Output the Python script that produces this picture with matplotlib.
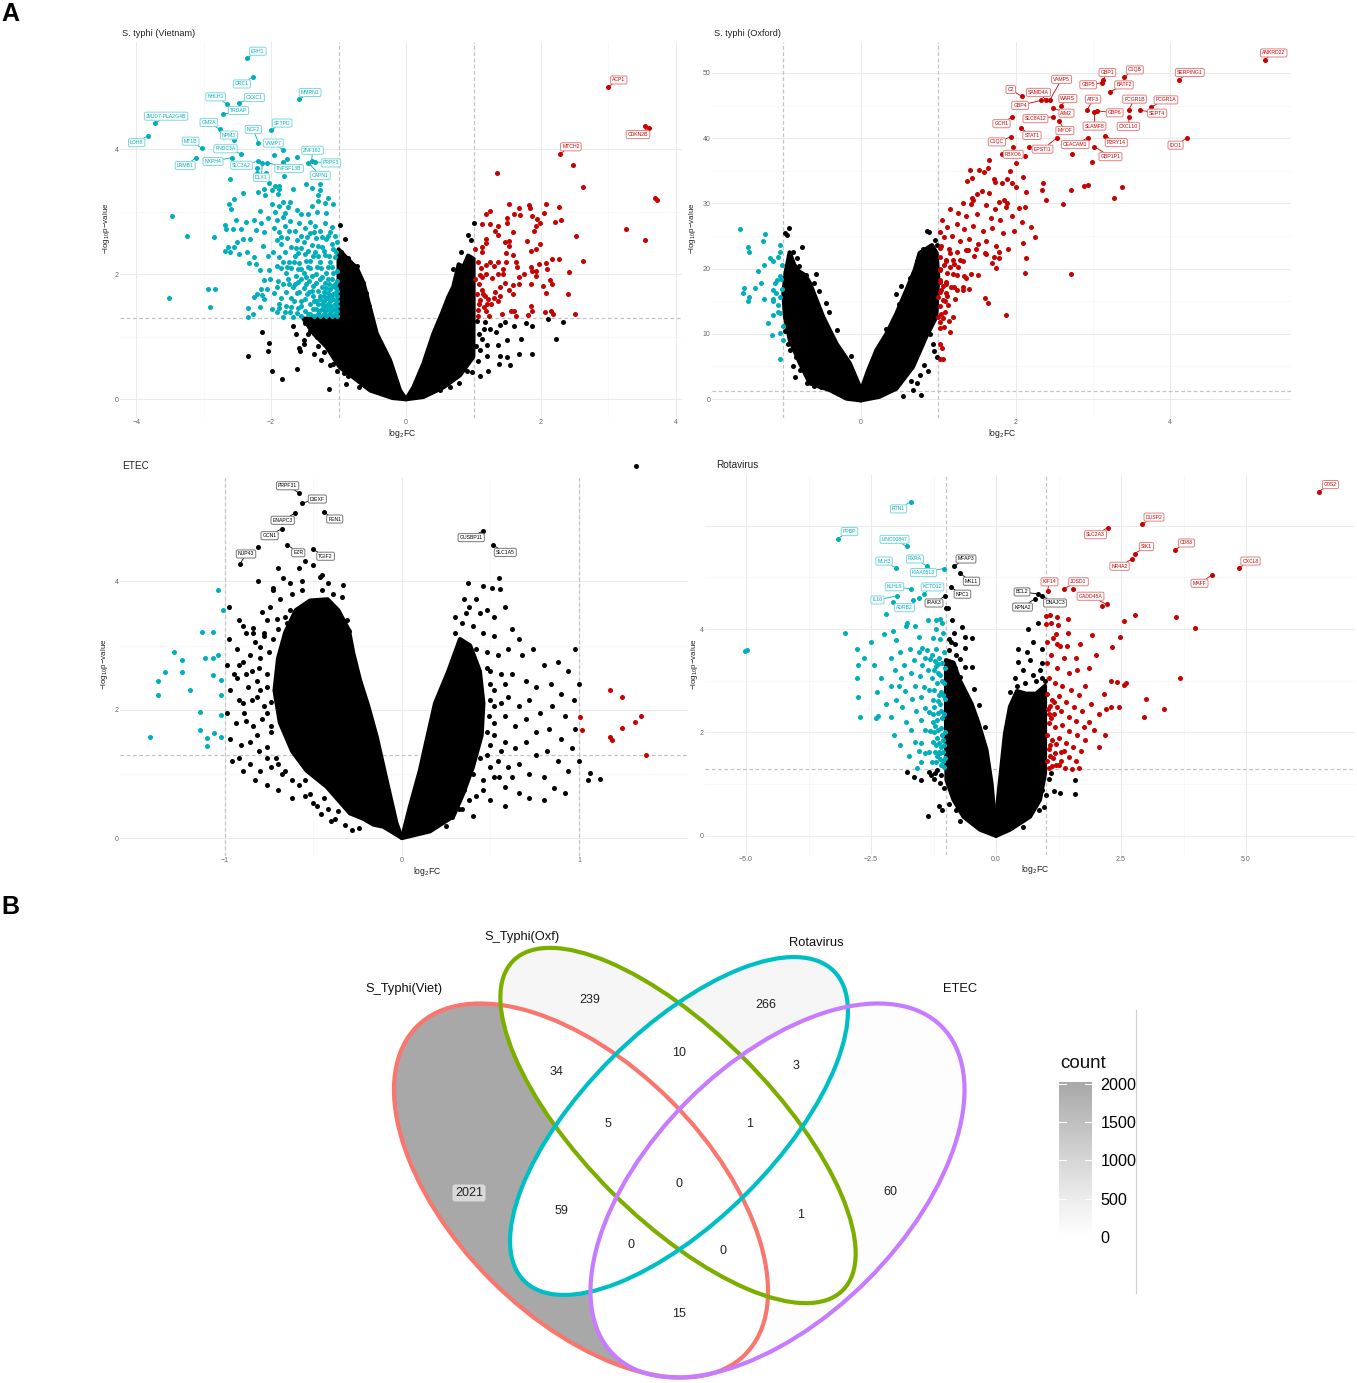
import numpy as np
import matplotlib
matplotlib.use("Agg")
import matplotlib.pyplot as plt
from matplotlib.patches import Ellipse, Polygon
from matplotlib.colors import LinearSegmentedColormap, Normalize
from matplotlib.cm import ScalarMappable

plt.rcParams['font.family'] = ['Liberation Sans', 'DejaVu Sans']
plt.rcParams['mathtext.fontset'] = 'custom'
plt.rcParams['mathtext.rm'] = 'Liberation Sans'
plt.rcParams['mathtext.it'] = 'Liberation Sans:italic'

TEAL = '#00AFBB'
RED = '#C70000'
W, H = 1357, 1383

# ================== S. typhi (Vietnam) ==================
vn_names = ['ERH1','ORC1','NHLH1','CXXC1','MMRN1','TRDAP','JMJD7-PLA2G4B','GM2A','SFTPD','NCF2','NPM3','LOH8',
            'MT1B','FNDC3A','VAMP7','ZNF182','PRPF3','LRMB1','NXPH4','SLC3A2','TNFSF13B','CAPN1','DLX1']
vn_label_pts = [(-2.36,5.46),(-2.27,5.16),(-2.66,4.73),(-2.47,4.75),(-1.585,4.80),(-2.72,4.56),(-3.72,4.42),(-2.76,4.32),
                (-2.0,4.31),(-2.19,4.11),(-2.55,4.15),(-3.83,4.22),(-3.03,4.02),(-2.44,3.93),(-1.82,3.99),(-1.40,3.81),
                (-1.35,3.80),(-3.11,3.87),(-2.58,3.87),(-2.20,3.81),(-2.06,3.79),(-1.45,3.79),(-2.13,3.79)]
vn_label_off = [(11,7),(-11,-7),(-11,7),(15,5),(11,7),(16,4),(11,7),(-11,7),(11,7),(-5,13),(-5,5),(-11,-7),(-11,7),(-16,5),
                (-10,7),(1,11),(16,-1),(-11,-8),(-19,-4),(-16,-4),(22,-6),(12,-13),(-1,-15)]
vn_teal = [(-1.95,3.91),(-1.62,3.88),(-1.82,3.80),(-1.77,3.84),(-2.21,3.71),(-2.21,3.63),(-2.08,3.62),(-1.81,3.57),(-2.61,3.53),
 (-2.03,3.47),(-1.94,3.42),(-1.89,3.42),(-1.48,3.45),(-1.27,3.45),(-1.40,3.39),(-2.20,3.32),(-2.11,3.37),(-1.99,3.35),(-1.88,3.37),
 (-1.67,3.37),(-2.41,3.30),(-2.09,3.27),(-1.90,3.28),(-1.31,3.27),(-1.27,3.35),(-1.16,3.22),(-2.55,3.20),(-1.30,3.18),(-2.62,3.12),
 (-1.98,3.12),(-1.82,3.16),(-1.72,3.16),(-1.39,3.10),(-1.20,3.15),(-1.09,3.12),(-2.59,3.04),(-2.17,3.02),(-1.89,3.09),(-1.75,3.08),
 (-1.62,3.03),(-1.94,3.00),(-1.79,2.98),(-1.55,2.96),(-1.45,2.97),(-1.32,3.00),(-1.19,2.99),(-2.04,2.91),(-1.92,2.87),(-1.83,2.92),
 (-3.47,2.94),(-3.25,2.61),(-2.84,2.59),(-2.68,2.79),(-2.67,2.73),(-2.52,2.87),(-2.37,2.84),(-2.57,2.73),(-2.44,2.72),(-2.25,2.87),
 (-2.15,2.82),(-2.23,2.71),(-2.11,2.67),(-2.50,2.52),(-2.42,2.57),(-2.32,2.57),(-2.69,2.38),(-2.64,2.43),(-2.55,2.43),(-2.61,2.35),
 (-2.48,2.32),(-2.36,2.35),(-2.26,2.28),(-2.33,2.18),(-2.22,2.16),(-2.16,2.07),(-2.03,2.07),(-2.12,2.45),(-2.04,2.30),(-1.92,2.14),
 (-2.10,1.91),(-2.02,1.92),(-2.15,1.77),(-2.06,1.77),(-2.21,1.69),(-2.26,1.63),(-2.13,1.67),(-2.11,1.60),(-2.34,1.46),(-2.16,1.48),
 (-2.27,1.36),(-2.34,1.31),(-2.93,1.77),(-2.83,1.77),(-2.91,1.47),(-1.98,1.45),(-1.89,1.46),(-1.92,1.39),(-1.83,1.31),(-1.79,1.40),
 (-1.67,1.31),(-1.70,1.48),(-3.52,1.62),(-1.95,2.75),(-1.88,2.68),(-1.80,2.78),(-1.72,2.85),(-1.65,2.70),(-1.58,2.82),(-1.50,2.75),
 (-1.42,2.84),(-1.35,2.78),(-1.28,2.70),(-1.20,2.82),(-1.10,2.76),(-1.05,2.62),(-1.92,2.55),(-1.85,2.48),(-1.76,2.58),(-1.70,2.44),
 (-1.62,2.55),(-1.55,2.42),(-1.47,2.60),(-1.40,2.47),(-1.33,2.58),(-1.25,2.44),(-1.18,2.56),(-1.10,2.48),(-1.04,2.35),(-1.97,2.36),
 (-1.88,2.28),(-1.80,2.35),(-1.73,2.20),(-1.65,2.30),(-1.58,2.18),(-1.50,2.33),(-1.42,2.22),(-1.35,2.36),(-1.28,2.19),(-1.20,2.31),
 (-1.12,2.20),(-1.05,2.28),(-1.86,2.10),(-1.78,2.02),(-1.70,2.10),(-1.63,1.98),(-1.55,2.08),(-1.48,1.96),(-1.42,2.10),(-1.34,2.00),
 (-1.26,2.10),(-1.18,2.02),(-1.10,2.12),(-1.03,2.05),(-1.90,1.90),(-1.82,1.84),(-1.75,1.92),(-1.68,1.80),(-1.60,1.88),(-1.52,1.78),
 (-1.44,1.90),(-1.38,1.82),(-1.28,1.92),(-1.20,1.86),(-1.10,1.93),(-1.95,1.70),(-1.86,1.62),(-1.78,1.72),(-1.70,1.62),(-1.62,1.70),
 (-1.55,1.58),(-1.47,1.68),(-1.88,1.52),(-1.78,1.50),(-1.60,1.46),(-1.50,1.42),(-1.42,1.52),(-1.42,1.36),(-1.55,1.34),(-1.62,1.38),
 (-1.38,1.66),(-1.30,1.74),(-1.12,1.76),(-1.22,1.72),(-1.74,2.70),(-1.56,2.62),(-1.15,2.62),(-1.36,2.67),(-1.63,2.42),(-1.30,2.30),
 (-1.60,2.08),(-1.52,2.02),(-1.46,2.12),(-1.40,1.98),(-1.32,2.12),(-1.24,1.96),(-1.16,2.12),(-1.08,2.02),(-1.02,1.90),(-1.64,1.84),
 (-1.56,1.92),(-1.48,1.84),(-1.40,1.74),(-1.33,1.86),(-1.24,1.80),(-1.16,1.92),(-1.06,1.84),(-1.02,1.74),(-1.66,1.58),(-1.58,1.72),
 (-1.50,1.60),(-1.44,1.72),(-1.36,1.58),(-1.28,1.66),(-1.18,1.78),(-1.08,1.68),(-1.74,1.84),(-1.66,2.20),(-1.46,2.38),(-1.38,2.30),
 (-1.22,2.38),(-1.14,2.30),(-1.08,2.40),(-1.02,2.52),(-1.30,2.46),(-1.12,2.68),(-1.24,2.60),(-1.42,2.66),(-1.52,2.52),(-1.60,2.34),
 (-1.48,2.22),(-1.56,1.50),(-1.34,1.44),(-1.46,1.36),(-1.72,1.40),(-1.82,2.20),(-1.92,1.80),(-1.76,2.12),(-1.86,2.60),
 (-1.02,1.33),(-1.06,1.36),(-1.10,1.33),(-1.14,1.37),(-1.18,1.33),(-1.22,1.36),(-1.27,1.33),(-1.31,1.37),(-1.36,1.33),(-1.03,1.42),
 (-1.07,1.45),(-1.11,1.41),(-1.16,1.44),(-1.20,1.42),(-1.25,1.44),(-1.29,1.41),(-1.38,1.44),(-1.02,1.50),(-1.06,1.53),(-1.11,1.50),
 (-1.15,1.53),(-1.20,1.50),(-1.24,1.53),(-1.30,1.52),(-1.03,1.58),(-1.08,1.60),(-1.13,1.58),(-1.17,1.62),(-1.22,1.58),(-1.27,1.60),
 (-1.33,1.58),(-1.02,1.66),(-1.06,1.70),(-1.12,1.66),(-1.16,1.70),(-1.21,1.66),(-1.04,1.78),(-1.09,1.82),(-1.14,1.84)]
vn_black_left_x = [0,-0.089,-0.237,-0.434,-0.63,-0.73,-0.87,-1.0,-1.0,-1.52,-1.37,-1.18,-0.98,-0.78,-0.53,-0.2]
vn_black_left_y = [0,0.14,0.625,1.05,1.86,2.10,2.25,2.40,1.30,1.29,1.05,0.84,0.51,0.35,0.14,0.02]
vn_black_right_x = [0,0.257,0.553,0.80,0.997,1.0,1.0,0.92,0.85,0.78,0.70,0.627,0.53,0.405,0.257,0.108]
vn_black_right_y = [0,0.037,0.19,0.385,0.68,1.37,2.25,2.30,2.12,2.16,1.80,1.64,1.37,1.05,0.57,0.19]
vn_black = [(-2.14,1.07),(-2.03,.90),(-2.04,.77),(-2.34,.70),(-1.98,.45),(-1.84,.33),(-1.62,.49),(-1.14,.17),(-.89,.25),(-1.63,1.05),
 (-1.68,1.17),(-1.59,.82),(-1.57,.78),(-1.52,.95),(-1.51,.88),(-1.37,.72),(-1.26,.63),(-1.13,.55),(-1.08,.57),(-1.42,1.10),(-1.32,.99),
 (-.98,2.79),(-.90,2.56),(-.97,2.36),(-.86,2.26),(-.73,2.14),(-.64,1.86),(-.80,2.07),(-.75,1.99),(-.60,1.70),(-.55,1.50),
 (-1.50,1.22),(-1.44,1.18),(-1.30,.85),(-1.22,.75),(-1.03,.45),(-.70,.20),(-.92,.42),(-.86,.38),(-.66,.24),(-1.46,1.05),
 (1.0,2.83),(.92,2.63),(.958,2.55),(.82,2.35),(.95,2.2),(.70,2.09),(.80,2.07),(1.39,1.19),(1.47,1.24),(1.60,1.17),(1.78,1.22),(1.86,1.17),(2.33,1.24),
 (2.11,1.28),(2.22,.97),(1.71,.96),(1.49,.95),(1.37,.87),(1.67,.73),(1.86,.73),(1.39,.69),(1.50,.68),(1.54,.55),(1.38,.56),(1.21,.46),(1.09,.37),(.97,.43),
 (.65,.19),(.51,.15),(.79,.26),(1.2,.87),(1.12,.97),(1.24,1.13),(1.17,1.24),(1.34,1.08),(1.2,.69),(1.1,.79),(1.15,1.12),(1.05,1.25),(1.08,1.05),(1.03,.85),(1.06,.62),(.9,.45)]
vn_red = [(1.35,3.62),(2.47,3.75),(2.62,3.40),(3.69,3.22),(3.72,3.19),(3.26,2.72),(3.54,2.55),(3.54,4.375),(3.51,4.26),
 (1.53,3.13),(1.68,3.07),(1.82,3.11),(1.83,3.06),(2.08,3.13),(2.26,3.08),(2.04,2.99),(1.24,3.01),(1.18,2.97),(1.6,2.97),(1.69,2.95),(1.86,2.93),(1.49,2.91),
 (1.94,2.88),(1.99,2.83),(2.21,2.84),(2.29,2.87),(1.12,2.81),(1.25,2.81),(1.49,2.83),(1.37,2.78),(1.93,2.78),(1.32,2.69),(1.58,2.68),(1.89,2.69),(1.37,2.63),
 (2.52,2.61),(1.18,2.56),(1.79,2.54),(1.18,2.5),(1.47,2.51),(1.53,2.53),(1.98,2.49),(1.53,2.45),(1.13,2.44),(1.02,2.4),(1.92,2.41),(1.85,2.37),(1.12,2.36),
 (1.48,2.34),(1.58,2.31),(2.63,2.22),(2.27,2.24),(2.16,2.24),(2.07,2.18),(1.97,2.16),(1.63,2.2),(1.37,2.19),(1.48,2.2),(1.06,2.2),(1.24,2.2),(1.65,2.11),
 (1.85,2.11),(2.09,2.08),(1.19,2.15),(1.11,2.1),(1.31,2.13),(1.44,2.09),(2.41,2.03),(1.86,2.05),(1.92,2.05),(1.75,2.0),(1.44,2.01),(1.37,2.0),(1.19,2.01),
 (1.1,1.99),(1.93,1.97),(1.68,1.95),(1.27,1.94),(1.12,1.95),(1.02,1.92),(2.13,1.91),(2.17,1.85),(1.47,1.86),(1.08,1.85),(1.85,1.84),(1.67,1.84),(1.59,1.83),
 (2.03,1.81),(1.39,1.79),(1.32,1.72),(1.52,1.75),(1.59,1.69),(2.08,1.7),(2.4,1.69),(1.12,1.75),(1.05,1.68),(1.17,1.66),(1.39,1.65),(1.22,1.61),(1.37,1.57),
 (1.1,1.59),(1.2,1.53),(1.85,1.5),(1.15,1.48),(1.06,1.43),(1.86,1.42),(1.56,1.41),(1.19,1.42),(2.06,1.4),(2.15,1.42),(2.18,1.37),(2.51,1.37),(1.63,1.34),
 (1.8,1.35),(1.42,1.37),(1.23,1.34),(1.07,1.33),(1.6,1.41),(1.14,1.68),(1.26,1.52),(1.08,1.52),(1.3,1.62)]
vn_red_names = ['ACP1','CDKN2B','MTCH2']
vn_red_label_pts = [(2.99,5.0),(3.60,4.35),(2.28,3.93)]
vn_red_label_off = [(11,7),(-11,-7),(11,7)]

# ================== S. typhi (Oxford) ==================
ox_names = ['ANKRD22','SERPING1','C1QB','GBP1','GBP5','BATF2','VAMP5','C2','SAMD4A','GBP4','AIM2','WARS','ATF3','FCGR1B','FCGR1A',
            'GBP6','SEPT4','SLC8A12','GCH1','CXCL10','SLAMF8','MYOF','EPSTI1','STAT1','C1QC','FBXO6','CEACAM1','P2RY14','GBP1P1','IDO1']
ox_label_pts = [(5.22,52.0),(4.11,49.0),(3.40,49.4),(3.135,49.0),(3.12,48.5),(3.22,47.1),(2.44,45.8),(2.08,46.4),(2.40,45.8),(2.33,45.8),
 (2.49,44.6),(2.585,45.0),(2.925,44.3),(3.46,44.3),(3.75,44.8),(3.05,44.2),(3.61,44.3),(2.49,43.3),(1.96,43.3),(3.47,43.2),(3.02,44.0),
 (2.56,42.7),(2.53,40.0),(2.07,41.5),(1.94,40.2),(1.97,38.6),(2.94,40.1),(3.16,40.4),(3.02,38.7),(4.21,40.0)]
ox_label_off = [(9,7),(11,7),(11,7),(4,7),(-14,-2),(14,7),(12,21),(-11,7),(-8,8),(-21,-5),(13,-5),(7,7),(6,11),(6,11),(15,7),(18,-2),(17,-3),
 (-18,-2),(-11,-7),(-1,-9),(0,-14),(6,-10),(-14,-11),(11,-7),(-14,-5),(0,-7),(-13,-7),(11,-7),(16,-10),(-11,-7)]
ox_red = [(2.73,37.6),(2.99,36.4),(2.18,38.6),(1.83,37.6),(2.12,37.2),(1.66,36.7),(2.0,36.2),(1.41,35.1),(1.53,35.2),(1.59,34.8),(1.64,35.5),
 (1.93,35.0),(1.44,33.9),(1.37,33.4),(1.72,33.8),(1.89,33.7),(2.10,34.0),(1.96,33.2),(1.82,33.1),(1.74,33.3),(2.01,32.5),(2.36,33.1),(2.34,32.0),
 (2.14,31.7),(2.72,32.0),(2.88,32.7),(2.94,32.8),(3.37,32.5),(3.27,30.9),(2.40,30.6),(2.61,29.9),(1.57,31.9),(1.66,31.6),(1.50,31.4),(1.44,30.9),
 (1.45,30.5),(1.32,30.0),(1.43,29.9),(1.62,29.8),(1.78,30.2),(1.85,30.6),(1.89,30.0),(2.05,29.3),(2.12,29.5),(1.73,29.1),(1.88,29.4),
 (2.72,19.2),(1.88,12.9),(1.15,29.2),(1.25,28.6),(1.36,28.0),(1.50,28.4),(1.68,27.8),(1.80,27.5),(1.95,28.0),(2.08,27.2),(2.20,26.4),(1.05,27.5),
 (1.12,26.4),(1.24,26.9),(1.34,26.1),(1.45,26.6),(1.58,25.8),(1.70,26.2),(1.84,25.4),(1.98,25.7),(2.25,24.8),(2.10,24.0),(1.02,25.6),(1.08,24.8),
 (1.18,25.0),(1.28,24.2),(1.40,24.6),(1.52,23.8),(1.62,24.2),(1.75,23.4),(1.90,23.0),(1.04,23.4),(1.14,23.0),(1.24,22.6),(1.36,22.9),(1.46,22.0),
 (1.60,22.4),(1.72,21.8),(1.02,21.8),(1.10,21.2),(1.20,20.7),(1.32,21.2),(1.02,20.0),(1.12,19.4),(1.24,19.0),(1.36,18.6),(1.02,18.2),(1.10,17.6),(1.20,17.2),(1.32,16.8),
 (1.03,16.4),(1.12,15.8),(1.22,15.3),(1.02,17.9),(1.06,17.3),(1.04,16.7),(1.1,16.2),(1.0,15.7),(1.06,15.2),(1.13,14.4),(1.02,14.2),(1.09,13.4),(1.0,12.6),
 (1.06,12.4),(1.02,10.9),(1.07,11.1),(1.15,10.3),(1.19,12.6),(1.03,8.5),(1.05,7.9),(1.03,6.1),(1.06,6.1),(1.64,14.7),(1.6,15.5),(1.4,16.9),(1.32,17.2),(1.24,16.7),
 (1.17,17.2),(1.1,17.9),(1.34,18.9),(1.43,19.2),(1.52,19.1),(1.19,19.2),(1.15,20.2),(1.25,20.2),(1.07,20.5),(1.02,19.8),(1.10,21.3),(1.19,21.3),(1.28,21.3),(1.15,22.4),
 (1.02,23.2),(1.38,22.9),(1.49,23.0),(1.62,22.3),(1.79,22.6),(1.75,20.1),(1.7,20.9),(1.79,21.7),(2.12,19.4),(2.14,21.6),(1.04,13.0),(1.09,15.0),(1.02,11.8),(1.14,12.0)]
ox_teal = [(-1.56,26.1),(-1.24,25.3),(-1.27,24.2),(-1.46,23.3),(-1.44,22.6),(-1.05,23.7),(-1.05,22.6),(-1.17,21.7),(-1.07,21.8),(-1.13,21.1),(-1.25,20.5),(-1.02,20.5),
 (-1.33,19.6),(-1.05,18.8),(-1.11,17.8),(-1.29,17.8),(-1.51,17.1),(-1.37,17.1),(-1.13,16.8),(-1.52,16.2),(-1.44,15.6),(-1.46,15.0),(-1.25,15.3),(-1.14,15.4),(-1.04,15.7),
 (-1.07,14.4),(-1.14,12.9),(-1.05,13.2),(-1.2,11.7),(-1.15,9.9),(-1.05,10.2),(-1.01,11.2),(-1.0,9.0),(-1.04,6.1),(-1.08,18.2),(-1.03,18.4),(-1.09,16.2),(-1.02,16.9),(-1.13,15.0),(-1.07,13.4)]
ox_black_left_x = [0,-.185,-.40,-.658,-.787,-.916,-.98,-1.0,-.97,-.92,-.86,-.8,-.72,-.658,-.572,-.486,-.314,-.142,-.013]
ox_black_left_y = [-.2,.07,1.38,2.4,5.5,9.0,12.6,16.2,19.5,22.5,20.6,19.6,19.0,17.8,15.2,12.6,8.5,5.5,1.9]
ox_black_right_x = [0,.24,.46,.675,.847,.976,1.0,.98,.92,.84,.76,.697,.589,.46,.331,.202,.095,.02]
ox_black_right_y = [-.2,.35,1.6,4.95,9.6,12.6,18.8,22.4,23.6,23.0,22.4,19.8,16.7,13.1,10,7.5,4.4,1.9]
ox_black = [(-.93,26.3),(-.98,25.4),(-.95,25.2),(-.76,23.3),(-.88,22.5),(-.83,21.6),(-.91,21.8),(-.94,20.6),(-.94,19.8),(-.58,19.2),(-.71,19),(-.60,17.8),(-.54,16.6),(-.45,14.7),
 (-.41,13.4),(-.31,10.6),(-.13,6.6),(-.91,7.5),(-.88,5),(-.85,3.4),(-.69,2.4),(-.78,4.4),(-.98,10.5),(-.94,8.4),(-.84,6.5),(-.8,20.4),(-.87,20.4),(-.52,1.8),(-.6,2.0),
 (.856,25.8),(.88,25.6),(.954,24.4),(.98,23.6),(.55,.4),(.68,1.4),(.87,4.3),(.76,3.7),(.93,8.5),(.655,2.7),(.90,10),(.63,18.5),(.526,17.4),(.45,16.1),(.8,23),(.72,21.2),(.68,19.2),
 (.98,6.4),(.72,2.4),(.82,5.2),(.95,7.4),(.78,.7),(.5,14.6),(.42,12),(.33,10.8)]

# ================== ETEC ==================
et_names = ['PRPF31','DIEXF','ENAPC3','GCN1','FEN1','NUP43','EZR','TGIF2','GUSBP11','SLC1A5']
et_label_pts = [(-.584,5.38),(-.563,5.22),(-.606,5.06),(-.68,4.82),(-.442,5.08),(-.915,4.27),(-.648,4.57),(-.505,4.50),(.459,4.79),(.516,4.56)]
et_label_off = [(-11,7),(15,4),(-12,-7),(-12,-7),(11,-7),(6,10),(11,-8),(13,-7),(-12,-7),(12,-7)]
et_teal = [(-1.424,1.57),(-1.38,2.23),(-1.38,2.45),(-1.29,2.90),(-1.24,2.77),(-1.24,2.59),(-1.20,2.31),(-1.34,2.59),(-1.13,3.21),(-1.04,3.86),
 (-1.07,3.21),(-1.11,2.80),(-1.07,2.80),(-1.04,2.85),(-1.07,2.54),(-1.02,2.23),(-1.14,1.96),(-1.02,1.92),(-1.06,1.64),(-1.14,1.68),(-1.10,1.56),
 (-1.10,1.43),(-1.02,1.57),(-1.01,3.55),(-1.02,2.46)]
et_red = [(1.175,2.31),(1.243,2.20),(1.006,1.88),(1.017,1.68),(1.175,1.57),(1.243,1.71),(1.316,1.81),(1.35,1.90),(1.186,1.53),(1.379,1.29)]
et_black_left_x = [0,-.105,-.162,-.218,-.294,-.426,-.539,-.62,-.69,-.72,-.70,-.66,-.6,-.52,-.42,-.36,-.3,-.275,-.237,-.19,-.143,-.087,-.031]
et_black_left_y = [0,.177,.21,.3,.385,.80,1.05,1.35,1.8,2.3,2.8,3.2,3.55,3.7,3.72,3.55,3.24,2.88,2.46,2.05,1.58,.9,.23]
et_black_right_x = [0,.158,.29,.347,.40,.45,.46,.44,.385,.328,.262,.187,.14,.102,.045]
et_black_right_y = [0,.104,.338,.7,1.1,1.6,2.1,2.6,3.0,3.1,2.6,2.1,1.53,1.06,.49]
et_black = [(1.32,5.79),(-.815,4.54),(-.815,4.0),(-.73,3.9),(.373,3.97),(.55,4.05),(.46,3.92),(.51,3.9),(.555,3.88),(.42,3.72),(.58,3.6),(.48,3.55),(.66,3.1),(.98,2.95),
 (-.67,4.05),(-.633,3.97),(-.567,4.0),(-.463,4.07),(-.416,3.97),(-.331,3.94),(-.727,3.86),(-.623,3.81),(-.567,3.86),(-.454,3.86),(-.388,3.81),(-.341,3.76),(-.689,3.73),(-.501,3.65),(-.416,3.68),
 (-.746,3.60),(-.633,3.56),(-.567,3.60),(-.463,3.58),(-.36,3.52),(-.793,3.52),(-.708,3.42),(-.661,3.44),(-.539,3.47),(-.313,3.40),(-.765,3.40),(-.897,3.30),(-.84,3.27),(-.30,3.22),(-.65,3.35),(-.7,3.25),(-.62,3.2),
 (-.98,3.6),(-.92,3.4),(-.7,4.2),(-.58,4.2),(-.55,4.32),(-.5,4.25),(-.45,4.1),(-.98,3.1),(-.93,2.95),(-.88,3.2),(-.83,3.05),(-.78,3.15),(-.99,2.7),(-.95,2.55),(-.90,2.75),(-.85,2.6),(-.80,2.8),(-.76,2.55),
 (-.97,2.3),(-.92,2.15),(-.87,2.35),(-.82,2.2),(-.78,2.05),(-.99,1.95),(-.94,1.8),(-.89,1.95),(-.84,1.75),(-.79,1.85),(-.74,1.65),(-.97,1.55),(-.91,1.45),(-.86,1.5),(-.81,1.35),(-.76,1.42),(-.71,1.25),(-.92,1.25),
 (-.86,1.15),(-.80,1.05),(-.74,1.1),(-.68,1.0),(-.62,.9),(-.83,.9),(-.76,.82),(-.7,.75),(-.62,.62),(-.55,.65),(-.48,.5),(-.75,2.9),(-.82,2.45),(-.96,1.2),(-.9,1.05),
 (-.76,2.35),(-.74,2.12),(-.76,1.95),(-.74,1.75),(-.76,1.25),(-.7,1.15),(-.66,1.05),(-.55,.9),(-.58,.82),(-.52,.68),(-.44,.62),(-.46,.38),(-.38,.3),(-.32,.2),(-.28,.12),
 (-.42,.45),(-.36,.42),(-.5,.55),(-.4,.26),(-.24,.15),(-.81,2.65),(-.88,2.55),(-.93,2.5),(-.84,3.2),(-.78,3.2),(-.73,3.1),(-.8,2.98),(-.86,2.85),(-.92,2.7),(-.85,2.15),(-.8,2.3),(-.9,2.1),(-.88,1.82),(-.82,1.6),
 (.35,3.72),(.38,3.6),(.44,3.5),(.52,3.45),(.62,3.25),(.6,2.95),(.68,2.85),(.74,2.95),(.8,2.7),(.88,2.75),(.94,2.6),(1.0,2.4),(.62,2.55),(.7,2.45),(.76,2.35),(.84,2.4),(.9,2.25),(.97,2.15),(.6,2.2),(.66,2.05),(.72,2.15),
 (.78,1.95),(.85,2.05),(.92,1.9),(.98,1.7),(.58,1.9),(.64,1.75),(.7,1.85),(.76,1.65),(.83,1.7),(.9,1.55),(.96,1.4),(.52,1.6),(.58,1.5),(.64,1.4),(.7,1.5),(.76,1.3),(.82,1.35),(.88,1.2),(.94,1.05),(1.0,1.2),(1.05,.9),
 (1.12,.92),(1.06,1.02),(.48,1.3),(.54,1.2),(.6,1.1),(.66,1.15),(.72,1.0),(.8,.95),(.86,.78),(.92,.7),(.4,1.0),(.46,.9),(.52,.95),(.58,.8),(.66,.7),(.72,.62),(.8,.6),(.35,.75),(.42,.65),(.5,.6),(.58,.5),(.32,.45),(.4,.35),(.22,.3),(.25,.18),
 (.3,3.2),(.34,3.35),(.4,3.3),(.46,3.2),(.52,3.15),(.42,2.95),(.48,2.9),(.54,2.85),(.48,2.65),(.5,2.6),(.56,2.55),(.5,2.4),(.52,2.3),(.58,2.4),(.5,2.15),(.52,2.05),(.56,2.1),
 (.49,1.9),(.52,1.8),(.48,1.65),(.5,1.45),(.56,1.35),(.44,1.25),(.5,1.1),(.36,.95),(.38,.6),(.46,.75),(.28,.32),(.34,.45),(.55,.95),(.62,.95),(.3,3.45),(.36,3.5)]

# ================== Rotavirus ==================
ro_t_names = ['RTN1','PPBP','LINC00847','RXRA','MLH3','KIAA0513','KLHL6','KCTD12','IL16','ADRB2']
ro_t_pts = [(-1.71,6.46),(-3.17,5.75),(-1.79,5.60),(-1.38,5.22),(-2.0,5.18),(-1.05,5.17),(-1.71,4.78),(-1.45,4.68),(-1.99,4.64),(-2.07,4.53)]
ro_t_off = [(-12,-7),(12,7),(-12,7),(-12,7),(-12,7),(-20,-4),(-16,2),(9,7),(-19,-4),(12,-6)]
ro_r_names = ['G0S2','DUSP2','SLC2A3','SIK1','NR4A2','CD83','CXCL8','MAFF','KIF14','JOSD1','GADD45A']
ro_r_pts = [(6.45,6.66),(2.92,6.03),(2.23,5.96),(2.77,5.46),(2.71,5.35),(3.57,5.53),(4.85,5.18),(4.31,5.04),(1.03,4.74),(1.35,4.78),(2.21,4.48)]
ro_r_off = [(12,7),(12,7),(-12,-7),(12,7),(-12,-7),(12,7),(12,7),(-12,-8),(2,9),(15,7),(-16,8)]
ro_k_names = ['MFAP3','MKL1','NPC1','IRAK3','BCL2','KPNA2','DNAJC3']
ro_k_pts = [(-.84,5.22),(-.73,5.08),(-.91,4.81),(-1.02,4.64),(.84,4.68),(.77,4.58),(.92,4.64)]
ro_k_off = [(12,7),(12,-8),(12,-7),(-11,-7),(-16,2),(-12,-8),(13,-7)]
ro_teal = [(-1.55,4.61),(-1.67,4.57),(-2.21,4.30),(-1.37,4.17),(-1.21,4.18),(-1.13,4.20),(-1.79,4.11),(-1.81,4.05),(-1.63,4.06),(-1.08,4.11),(-1.21,4.00),
 (-3.03,3.92),(-2.07,3.96),(-2.25,3.90),(-2.51,3.75),(-2.0,3.78),(-1.54,3.85),(-1.27,3.82),(-1.12,3.81),(-1.06,3.92),(-1.49,3.64),(-2.79,3.61),(-4.98,3.59),(-5.02,3.58),
 (-2.76,3.3),(-2.78,3.05),(-2.76,2.68),(-2.72,2.3),(-2.4,2.28),(-2.36,2.31),(-2.65,3.45),(-2.45,3.3),(-2.30,3.05),(-2.38,2.78),(-2.2,2.55),(-2.1,3.45),(-2.02,3.2),(-2.1,2.9),(-2.0,2.62),
 (-2.1,2.3),(-1.92,3.55),(-1.85,3.3),(-1.9,3.05),(-1.82,2.8),(-1.88,2.5),(-1.8,2.2),(-1.72,3.62),(-1.65,3.4),(-1.7,3.15),(-1.62,2.9),(-1.68,2.65),(-1.6,2.42),(-1.7,2.05),(-1.62,1.82),
 (-1.55,3.55),(-1.48,3.3),(-1.52,3.1),(-1.45,2.88),(-1.5,2.68),(-1.43,2.48),(-1.5,2.25),(-1.42,2.05),(-1.5,1.8),(-1.42,1.6),(-1.5,1.42),(-1.38,3.6),(-1.32,3.42),(-1.36,3.2),(-1.28,3.05),
 (-1.34,2.82),(-1.27,2.62),(-1.34,2.4),(-1.27,2.2),(-1.33,2.02),(-1.26,1.82),(-1.34,1.62),(-1.28,1.42),(-1.2,3.62),(-1.14,3.45),(-1.2,3.28),(-1.12,3.12),(-1.18,2.95),(-1.1,2.78),
 (-1.17,2.6),(-1.1,2.42),(-1.18,2.25),(-1.1,2.08),(-1.18,1.9),(-1.1,1.72),(-1.18,1.55),(-1.1,1.38),(-1.05,3.55),(-1.03,3.25),(-1.04,2.95),(-1.02,2.65),(-1.04,2.35),(-1.02,2.0),
 (-1.04,1.75),(-1.02,1.5),(-1.04,1.33),(-1.58,1.32),(-1.75,1.55),(-1.92,1.75),(-2.05,1.95),(-1.95,2.9),(-1.55,1.65),(-1.25,2.5),(-1.42,3.45),(-1.12,2.55),(-1.22,2.12),(-1.12,1.6),(-1.28,3.5),
 (-1.24,2.0),(-1.16,2.05),(-1.08,1.95),(-1.2,1.75),(-1.14,1.8),(-1.06,1.85),(-1.22,1.62),(-1.14,1.62),(-1.06,1.62),(-1.2,1.42),(-1.12,1.48),(-1.06,1.45),(-1.26,2.35),(-1.16,2.38),(-1.08,2.28),
 (-1.22,3.38),(-1.16,3.32),(-1.08,3.35),(-1.24,3.2),(-1.16,3.15),(-1.08,3.0),(-1.24,2.82),(-1.14,2.72),(-1.06,2.72)]
ro_red = [(1.53,4.78),(2.11,4.44),(1.07,4.28),(1.22,4.23),(1.44,4.20),(1.0,4.25),(1.09,4.12),(1.24,4.08),(1.0,4.1),(2.56,4.15),(2.77,4.28),(3.59,4.24),(3.97,4.03),(1.44,3.93),(1.19,3.91),
 (1.92,3.89),(2.47,3.84),(1.13,3.82),(1.21,3.72),(1.68,3.71),(1.41,3.67),(1.28,3.67),(2.31,3.65),(1.02,3.75),(3.67,3.05),(3.0,2.65),(3.35,2.45),(2.95,2.3),(2.6,2.95),(2.3,3.0),(2.0,3.5),(1.85,3.25),
 (2.15,2.75),(2.42,2.98),(2.46,2.5),(2.3,2.5),(2.2,2.45),(2.05,2.35),(1.6,3.45),(1.35,3.45),(1.1,3.5),(1.02,3.35),(1.22,3.25),(1.45,3.15),(1.62,3.2),(1.78,2.9),(1.05,3.05),(1.18,2.95),(1.32,2.9),(1.5,2.82),
 (1.65,2.72),(1.9,2.55),(1.02,2.75),(1.12,2.62),(1.25,2.7),(1.4,2.58),(1.55,2.5),(1.72,2.42),(1.85,2.2),(1.03,2.45),(1.15,2.35),(1.3,2.42),(1.45,2.3),(1.6,2.22),(1.75,2.1),(1.95,2.05),(1.05,2.18),(1.18,2.1),
 (1.32,2.15),(1.46,2.02),(1.62,1.95),(1.78,1.85),(1.02,1.95),(1.12,1.85),(1.26,1.9),(1.4,1.8),(1.54,1.72),(1.7,1.65),(1.05,1.68),(1.18,1.6),(1.3,1.62),(1.45,1.52),(1.6,1.45),(1.02,1.45),(1.12,1.35),(1.25,1.38),
 (1.38,1.32),(1.52,1.3),(1.05,1.32),(1.65,1.32),(2.18,1.95),(2.05,1.72),(2.55,2.92),(1.08,2.52),(1.16,2.58),(1.22,2.5),(1.06,2.35),(1.1,2.28),(1.2,1.78),(1.08,1.75),(1.14,1.5),(1.3,1.45),(1.36,1.65),(1.08,1.55),(1.2,1.38)]
ro_black_left_x = [0,-.32,-.65,-.85,-.99,-1.0,-1.0,-.85,-.72,-.49,-.35,-.19,-.09,-.03]
ro_black_left_y = [0,.12,.37,.70,1.08,2.2,3.4,3.35,3.0,2.56,2.18,1.66,1.02,.37]
ro_black_right_x = [0,.28,.68,.88,.98,.98,.8,.6,.42,.28,.18,.11,.01]
ro_black_right_y = [0,.12,.37,.70,1.21,2.9,2.75,2.75,2.8,2.5,1.98,1.34,.43]
ro_black = [(-1.0,4.41),(-.97,4.4),(-.887,4.17),(-.675,4.04),(-.85,3.92),(-.62,3.84),(-.487,3.82),(-.82,3.72),(-.62,3.64),(-.95,3.59),(-.72,3.42),(-.62,3.27),(-.487,3.27),(-.82,3.25),(-.95,3.34),
 (-.89,3.11),(-.72,3.08),(-.44,2.85),(-.35,2.53),(-.22,2.10),(-.8,3.5),(-.9,3.75),(-.95,3.8),(-.98,3.2),
 (.847,4.11),(.647,4.01),(.733,3.75),(.447,3.61),(.627,3.56),(.913,3.61),(.447,3.37),(.68,3.41),(.914,3.34),(.533,3.21),(.88,3.21),(.38,3.05),(.747,3.11),(.28,2.79),(.58,2.95),(.42,2.9),
 (.8,3.0),(.92,3.05),(.97,3.0),
 (-1.79,1.24),(-1.64,1.13),(-1.5,1.08),(-1.35,1.24),(-1.22,1.21),(-1.19,1.27),(-1.12,1.02),(-1.37,.38),(-1.15,.57),(-1.08,.50),(-.95,.62),(-1.3,1.18),(-1.25,1.1),(-1.1,1.18),(-1.05,.92),(-.8,.5),(-.72,.28),
 (1.58,1.09),(1.57,.81),(1.15,.86),(1.27,.83),(1.09,1.22),(.91,.89),(.53,.17),(1.0,.8),(1.05,1.1),(.95,.55),(.85,.5)]

# ================== Venn ==================
venn_sets = ['S_Typhi(Viet)', 'S_Typhi(Oxf)', 'Rotavirus', 'ETEC']
venn_counts = [2021, 34, 239, 59, 5, 10, 266, 15, 0, 0, 0, 1, 1, 3, 60]
cbar_ticks = [0, 500, 1000, 1500, 2000]
count_max = 2021
viet_only, oxf_only, rota_only, etec_only = 2021, 239, 266, 60

fig = plt.figure(figsize=(W / 100, H / 100), dpi=100)

# everything placed in pixels goes on this one
ov = fig.add_axes([0, 0, 1, 1], zorder=5)
ov.set_xlim(0, W)
ov.set_ylim(H, 0)
ov.axis('off')
ov.patch.set_alpha(0)

def panel(box, xlim, ylim, xticks, yticks, xticklabels=None):
    l, t, r, b = box
    ax = fig.add_axes([l / W, 1 - b / H, (r - l) / W, (b - t) / H])
    ax.set_xlim(*xlim)
    ax.set_ylim(*ylim)
    ax.set_xticks(xticks)
    ax.set_yticks(yticks)
    if xticklabels:
        ax.set_xticklabels(xticklabels)
    ax.set_xticks((np.array(xticks[:-1]) + np.array(xticks[1:])) / 2, minor=True)
    ax.set_yticks((np.array(yticks[:-1]) + np.array(yticks[1:])) / 2, minor=True)
    ax.grid(True, which='major', color='#ebebeb', lw=0.7)
    ax.grid(True, which='minor', color='#f3f3f3', lw=0.4)
    ax.set_axisbelow(True)
    ax.tick_params(which='both', length=0, labelsize=5, labelcolor='#666666', pad=1)
    for s in ax.spines.values():
        s.set_visible(False)
    ax.axvline(-1, color='#c4c4c4', ls=(0, (3, 2)), lw=0.9, zorder=1)
    ax.axvline(1, color='#c4c4c4', ls=(0, (3, 2)), lw=0.9, zorder=1)
    ax.axhline(1.3, color='#c4c4c4', ls=(0, (3, 2)), lw=0.9, zorder=1)
    return ax

def dots(ax, pts, color):
    a = np.array(pts)
    ax.scatter(a[:, 0], a[:, 1], s=13, color=color, linewidths=0, zorder=3, clip_on=False)

def blob(ax, xs, ys, color):
    ax.add_patch(Polygon(np.column_stack([xs, ys]), closed=True, fc=color, ec=color, lw=3, joinstyle='round', zorder=2.5))

def labels(ax, names, pts, offs, color, edge):
    for n, p, o in zip(names, pts, offs):
        ax.annotate(n, xy=p, xytext=o, textcoords='offset pixels', ha='center', va='center', fontsize=3.7, color=color,
                    bbox=dict(boxstyle='round,pad=0.3', fc='white', ec=edge, lw=0.7), zorder=6,
                    arrowprops=dict(arrowstyle='-', color=color, lw=0.6, shrinkA=0, shrinkB=0))

# panel A1
ax1 = panel((120, 42, 682, 418), (-4.24, 4.09), (-0.30, 5.72), [-4, -2, 0, 2, 4], [0, 2, 4])
blob(ax1, vn_black_left_x, vn_black_left_y, 'black')
blob(ax1, vn_black_right_x, vn_black_right_y, 'black')
dots(ax1, vn_black, 'black')
dots(ax1, vn_teal, TEAL)
dots(ax1, vn_label_pts, TEAL)
dots(ax1, vn_red, RED)
dots(ax1, vn_red_label_pts, RED)
labels(ax1, vn_names, vn_label_pts, vn_label_off, TEAL, '#7fd7dd')
labels(ax1, vn_red_names, vn_red_label_pts, vn_red_label_off, RED, '#e58080')

# panel A2
ax2 = panel((712, 42, 1291, 418), (-1.923, 5.56), (-2.9, 54.75), [0, 2, 4], [0, 10, 20, 30, 40, 50])
blob(ax2, ox_black_left_x, ox_black_left_y, 'black')
blob(ax2, ox_black_right_x, ox_black_right_y, 'black')
dots(ax2, ox_black, 'black')
dots(ax2, ox_teal, TEAL)
dots(ax2, ox_red, RED)
dots(ax2, ox_label_pts, RED)
labels(ax2, ox_names, ox_label_pts, ox_label_off, RED, '#e58080')

# panel A3
ax3 = panel((120, 478, 688, 856), (-1.593, 1.616), (-0.28, 5.61), [-1, 0, 1], [0, 2, 4])
blob(ax3, et_black_left_x, et_black_left_y, 'black')
blob(ax3, et_black_right_x, et_black_right_y, 'black')
dots(ax3, et_black, 'black')
dots(ax3, et_teal, TEAL)
dots(ax3, et_red, RED)
dots(ax3, et_label_pts, 'black')
labels(ax3, et_names, et_label_pts, et_label_off, 'black', '#777777')

# panel A4
ax4 = panel((705, 475, 1355, 855), (-5.82, 7.18), (-0.37, 6.98), [-5, -2.5, 0, 2.5, 5], [0, 2, 4, 6],
            ['\u22125.0', '\u22122.5', '0.0', '2.5', '5.0'])
ax4.set_yticklabels(['0', '2', '4', ''])
blob(ax4, ro_black_left_x, ro_black_left_y, 'black')
blob(ax4, ro_black_right_x, ro_black_right_y, 'black')
dots(ax4, ro_black, 'black')
dots(ax4, ro_teal, TEAL)
dots(ax4, ro_t_pts, TEAL)
dots(ax4, ro_red, RED)
dots(ax4, ro_r_pts, RED)
dots(ax4, ro_k_pts, 'black')
labels(ax4, ro_t_names, ro_t_pts, ro_t_off, TEAL, '#7fd7dd')
labels(ax4, ro_r_names, ro_r_pts, ro_r_off, RED, '#e58080')
labels(ax4, ro_k_names, ro_k_pts, ro_k_off, 'black', '#777777')

# titles and axis names
ov.text(122, 33, 'S. typhi (Vietnam)', fontsize=6.6, va='center', color='#222222')
ov.text(714, 34, 'S. typhi (Oxford)', fontsize=6.6, va='center', color='#222222')
ov.text(122, 466, 'ETEC', fontsize=7.2, va='center', color='#222222')
ov.text(716, 465, 'Rotavirus', fontsize=7.2, va='center', color='#222222')
for x, y in [(402, 433), (1002, 433), (427, 871), (1035, 869)]:
    ov.text(x, y, r'log$_2$FC', fontsize=6.2, ha='center', va='center', color='#222222')
for x, y in [(106, 228), (693, 228), (104, 664), (695, 664)]:
    ov.text(x, y, '\u2212log$_{10}$p\u2212value', fontsize=5.8, rotation=90, ha='center', va='center', color='#222222')
ov.text(1, 14, 'A', fontsize=18, fontweight='bold', va='center')
ov.text(1, 907, 'B', fontsize=18, fontweight='bold', va='center')

# venn
grey_map = LinearSegmentedColormap.from_list('cnt', [(0, '#ffffff'), (0.25, '#ececec'), (1, '#a8a8a8')])
norm = Normalize(0, count_max)
e_viet = dict(xy=(581, 1190.5), width=464, height=254, angle=45)
e_oxf = dict(xy=(678, 1125.5), width=466, height=188, angle=45)
e_rota = dict(xy=(679, 1126), width=438, height=191, angle=-45)
e_etec = dict(xy=(777.5, 1190.5), width=464, height=254, angle=-45)
shapes = [e_viet, e_oxf, e_rota, e_etec]
region_n = [viet_only, oxf_only, rota_only, etec_only]
for s, n in zip(shapes, region_n):
    ov.add_patch(Ellipse(**s, fc=grey_map(norm(n)), ec='none', zorder=1))
for i in range(4):
    for j in range(i + 1, 4):
        clip = Ellipse(**shapes[j], transform=ov.transData)
        white = Ellipse(**shapes[i], fc='white', ec='none', zorder=2)
        ov.add_patch(white)
        white.set_clip_path(clip)
for s, c in zip(shapes, ['#F8766D', '#7CAE00', '#00BFC4', '#C77CFF']):
    ov.add_patch(Ellipse(**s, fc='none', ec=c, lw=3, zorder=3))

venn_xy = [(469, 1193), (557, 1072), (590, 1000), (561, 1211), (608, 1124), (679, 1053), (766, 1005), (679, 1314), (631, 1245),
           (679, 1184), (723, 1251), (801, 1215), (750, 1124), (796, 1066), (890, 1192)]
for (x, y), n in zip(venn_xy, venn_counts):
    box = dict(boxstyle='round,pad=0.2', fc='#d9d9d9', ec='none') if n == 2021 else None
    ov.text(x, y, str(n), fontsize=9, ha='center', va='center', color='#222222', zorder=4, bbox=box)
for (x, y), n in zip([(404, 989), (522, 937), (816, 943), (960, 989)], venn_sets):
    ov.text(x, y, n, fontsize=9.3, ha='center', va='center', color='#111111', zorder=4)

# legend
cax = fig.add_axes([1059 / W, 1 - 1237 / H, 33 / W, 155 / H])
cb = fig.colorbar(ScalarMappable(norm=norm, cmap=grey_map), cax=cax)
cb.outline.set_visible(False)
cb.set_ticks(cbar_ticks)
cax.tick_params(length=0, labelsize=11.6, pad=6)
for t in cbar_ticks:
    cax.plot([0, 0.2], [t, t], color='white', lw=0.8, transform=cax.get_yaxis_transform())
    cax.plot([0.8, 1], [t, t], color='white', lw=0.8, transform=cax.get_yaxis_transform())
ov.text(1060, 1064, 'count', fontsize=13.5, va='center', color='#111111')
ov.plot([1136, 1136], [1010, 1293], color='#cfcfcf', lw=0.8)

fig.savefig('out.png', dpi=100)
